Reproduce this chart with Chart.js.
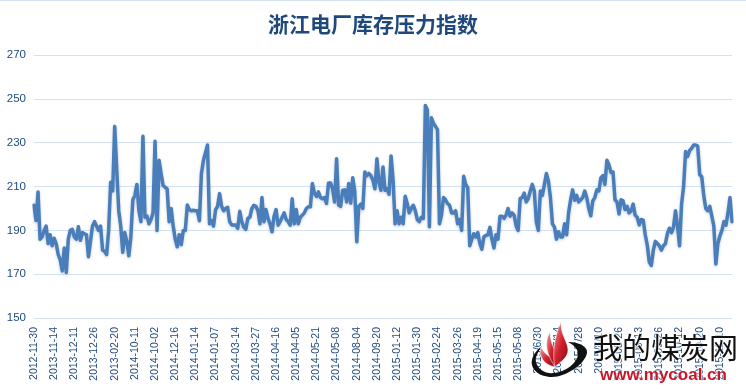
<!DOCTYPE html>
<html lang="zh">
<head>
<meta charset="UTF-8">
<title>浙江电厂库存压力指数</title>
<script src="https://cdn.jsdelivr.net/npm/chart.js"></script>
<style>
  html, body { margin: 0; padding: 0; background: #fff; overflow: hidden; }
  #wrap { position: relative; width: 746px; height: 392px; }
  #topLine { position: absolute; left: 0; top: 0; width: 746px; height: 1px; background: #d4e3f4; }
  #logo { position: absolute; left: 530px; top: 320px; width: 216px; height: 72px; }
  #logoName { position: absolute; left: 63px; top: 8px; font: 29px/36px "Noto Sans CJK SC"; color: #111; white-space: nowrap;
    text-shadow: 0 0 2px #fff, 0 0 2px #fff, 0 0 3px #fff; }
  #logoUrl { position: absolute; left: 70px; top: 44px; font: bold 17px/22px "Liberation Sans"; color: #c8162a; white-space: nowrap;
    text-shadow: 0 0 2px #fff, 0 0 2px #fff; }
  #logo svg { position: absolute; left: 0; top: 0; }
</style>
</head>
<body>
<div id="wrap">
  <canvas id="chart" width="746" height="392"></canvas>
  <div id="topLine"></div>
  <div id="logo">
    <svg width="64" height="64" viewBox="0 0 64 64">
      <defs>
        <linearGradient id="flame" x1="0" y1="0" x2="1" y2="1">
          <stop offset="0" stop-color="#e9a3a3"/>
          <stop offset="0.5" stop-color="#d3202c"/>
          <stop offset="1" stop-color="#7c1016"/>
        </linearGradient>
      </defs>
      <path d="M38 22 C50 22 58 27 57 33 C55 44 36 57 22 57 C8 57 0 48 2 40 C3 34 8 29 12 26 C8 32 5 37 6 42 C8 50 16 54 24 53 C36 52 48 42 48 34 C48 29 44 25 38 22 Z" fill="#111"/>
      <path d="M25 47 C14 45 8 36 11 27 C14 33 18 36 22 38 C22 41 24 44 25 47 Z" fill="url(#flame)" stroke="#fff" stroke-width="0.5"/>
      <path d="M25 47 C18 36 13 24 20 12 C20 22 24 28 27 36 C27 40 26 44 25 47 Z" fill="url(#flame)" stroke="#fff" stroke-width="0.5"/>
      <path d="M25 47 C22 34 24 18 31 2 C30 14 38 22 38 30 C38 38 30 42 25 47 Z" fill="url(#flame)" stroke="#fff" stroke-width="0.5"/>
    </svg>
    <div id="logoName">我的煤炭网</div>
    <div id="logoUrl">www.mycoal.cn</div>
  </div>
</div>
<script>
  const chartTitle = '浙江电厂库存压力指数';

  // one label every 10 points on the x axis
  const tickLabels = [
    '2012-11-30', '2013-11-14', '2013-12-11', '2013-12-26', '2013-02-20',
    '2014-10-11', '2014-10-02', '2014-12-16', '2014-01-14', '2014-01-07',
    '2014-03-14', '2014-03-27', '2014-04-16', '2014-04-05', '2014-05-21',
    '2014-05-08', '2014-08-04', '2014-09-20', '2015-01-12', '2015-01-30',
    '2015-02-24', '2015-03-26', '2015-04-19', '2015-05-15', '2015-05-08',
    '2015/6/30', '2015/7/14', '2015/7/28', '2015/8/10', '2015-08-26',
    '2015-09-13', '2015-09-26', '2015-10-12', '2015-10-20', '2015-11-10'
  ];

  const indexValues = [
    201.5, 194.5, 207.5, 186, 187, 190, 192, 184, 188, 183,
    186.4, 184, 179, 176.5, 171.5, 182, 170.8, 186, 190, 190.5,
    187, 186, 191.7, 185.5, 189, 188.5, 188, 178, 185, 192,
    194, 192, 190, 192, 181, 180.5, 179, 190, 212, 208,
    237.5, 218, 199, 192, 180, 189, 185, 178.4, 187, 204,
    206, 211, 199, 194, 233, 196, 196.5, 193, 195, 198,
    230.7, 190, 222, 216, 210.5, 209.7, 209, 194, 200, 192,
    186, 182.5, 188, 183.5, 190, 190, 201.6, 199.5, 199, 199.2,
    199, 199, 194.4, 216, 222, 225.5, 229, 193, 194.5, 192,
    199.5, 201, 206.8, 201, 199, 200, 200.5, 194, 192.5, 192.5,
    192.5, 191, 198.7, 194, 191.5, 190.5, 195.5, 196, 200, 201.5,
    201, 199, 193, 205, 194, 199.5, 195.5, 193, 189.4, 196.5,
    199.5, 192.4, 194, 196, 198, 195, 194, 192.4, 204.4, 193,
    199.5, 193, 196, 197, 198, 200, 200.8, 200.8, 211.4, 207,
    205.5, 207.6, 205, 204.5, 205, 202.3, 211.7, 211.7, 209, 203,
    222.7, 201.5, 201, 208.3, 208.5, 203, 211.4, 202.5, 214, 208,
    184.8, 201, 202, 200, 216.7, 215, 216, 215, 213, 209,
    222.7, 212, 208.3, 219, 208.3, 209, 206.5, 224, 213, 193,
    199, 193, 196, 193, 205.6, 202.3, 198, 200, 201.5, 199,
    195, 194, 196, 195.5, 247, 245, 191.7, 241.4, 239, 237.5,
    236, 193, 197, 205, 204, 202.3, 201.5, 198, 198, 199,
    193, 195, 190, 214.7, 211, 209.5, 183, 186, 188.5, 187,
    189, 184, 181.4, 187, 187.7, 188, 191.4, 186, 182, 188,
    186, 196.5, 196.5, 195.5, 197, 200, 196.5, 198, 197, 192,
    190, 204.5, 205, 207, 203, 204.5, 208, 211, 208, 194,
    190, 208, 206, 211, 216, 212.5, 205, 193, 191.5, 186,
    189.4, 187, 187, 193, 188, 198, 204, 208.5, 203.8, 206,
    203, 204, 205, 208, 205, 200, 196.7, 203.5, 205, 208.5,
    208, 214, 215, 211, 222, 220, 216.5, 216.7, 204, 203,
    197.5, 204, 203.5, 199.5, 201, 198, 199, 202, 197, 196,
    192.5, 195, 194.7, 188, 183.3, 175.5, 174, 181, 185, 184,
    183, 181, 183, 184, 188.6, 191, 189, 191.5, 199, 192,
    183, 202, 210, 226, 223.8, 226.5, 227.5, 229, 229, 228.5,
    215.5, 214.5, 206, 200, 199, 201, 196.5, 192, 174.7, 184,
    187.5, 190, 194, 192.4, 198, 205, 194
  ];

  const categories = indexValues.map((v, i) => (i % 10 === 0 ? tickLabels[i / 10] : ''));

  // soft shadow under the line, like the office chart it comes from
  const lineShadow = {
    id: 'lineShadow',
    beforeDatasetDraw(chart) {
      chart.ctx.save();
      chart.ctx.shadowColor = 'rgba(60,90,130,0.3)';
      chart.ctx.shadowBlur = 3;
      chart.ctx.shadowOffsetY = 1;
    },
    afterDatasetDraw(chart) {
      chart.ctx.restore();
    }
  };

  new Chart(document.getElementById('chart'), {
    type: 'line',
    data: {
      labels: categories,
      datasets: [{
        data: indexValues,
        borderColor: '#4a7ebb',
        borderWidth: 3.5,
        pointRadius: 0,
        tension: 0,
        borderJoinStyle: 'round',
        borderCapStyle: 'round'
      }]
    },
    plugins: [lineShadow],
    options: {
      responsive: false,
      animation: false,
      plugins: {
        legend: { display: false },
        tooltip: { enabled: false },
        title: {
          display: true,
          text: chartTitle,
          color: '#1f497d',
          font: { family: '"Noto Sans CJK SC"', size: 21, weight: 'bold' },
          padding: { top: 11, bottom: 19 }
        }
      },
      scales: {
        x: {
          offset: false,
          grid: { display: false },
          border: { display: false },
          afterFit(scale) {
            scale.height = 74;
            scale.paddingRight = 14;
          },
          ticks: {
            autoSkip: false,
            minRotation: 90,
            maxRotation: 90,
            padding: 1,
            color: '#1f497d',
            font: { family: '"Liberation Sans"', size: 10.5 }
          }
        },
        y: {
          min: 150,
          max: 270,
          grid: { color: '#d2e2f3', lineWidth: 1, drawTicks: false },
          border: { display: false },
          afterFit(scale) { scale.width = 34; },
          ticks: {
            stepSize: 20,
            padding: 8,
            color: '#1f497d',
            font: { family: '"Liberation Sans"', size: 11.5 }
          }
        }
      }
    }
  });
</script>
</body>
</html>
